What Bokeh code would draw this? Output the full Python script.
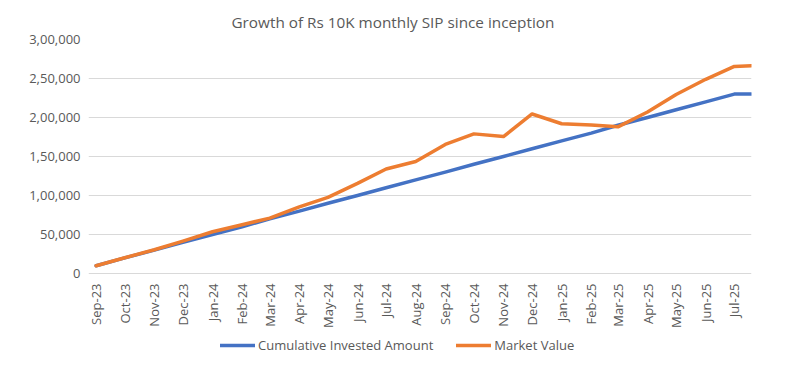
import math
from datetime import datetime
from bokeh.plotting import figure
from bokeh.models import Legend, LegendItem, FixedTicker, Range1d
from bokeh.core.properties import value
from bokeh.embed import file_html
from bokeh.resources import INLINE

# ---- data ----
dates = ["2023-09-01", "2023-10-01", "2023-11-01", "2023-12-01", "2024-01-01", "2024-02-01",
         "2024-03-01", "2024-04-01", "2024-05-01", "2024-06-01", "2024-07-01", "2024-08-01",
         "2024-09-01", "2024-10-01", "2024-11-01", "2024-12-01", "2025-01-01", "2025-02-01",
         "2025-03-01", "2025-04-01", "2025-05-01", "2025-06-01", "2025-07-01", "2025-07-19"]
invested = [10000, 20000, 30000, 40000, 50000, 60000, 70000, 80000, 90000, 100000, 110000, 120000,
            130000, 140000, 150000, 160000, 170000, 180000, 190000, 200000, 210000, 220000, 230000, 230000]
market = [10000, 20200, 30500, 41500, 53500, 62500, 71000, 85500, 97500, 115500, 134000, 143500,
          165500, 179000, 175500, 204500, 192000, 190500, 188000, 207000, 229500, 249000, 265500, 266500]
tick_dates = dates[:-1]
tick_labels = ["Sep-23", "Oct-23", "Nov-23", "Dec-23", "Jan-24", "Feb-24", "Mar-24", "Apr-24",
               "May-24", "Jun-24", "Jul-24", "Aug-24", "Sep-24", "Oct-24", "Nov-24", "Dec-24",
               "Jan-25", "Feb-25", "Mar-25", "Apr-25", "May-25", "Jun-25", "Jul-25"]
y_ticks = [0, 50000, 100000, 150000, 200000, 250000, 300000]
y_labels = ["0", "50,000", "1,00,000", "1,50,000", "2,00,000", "2,50,000", "3,00,000"]
title_text = "Growth of Rs 10K monthly SIP since inception"

# layout constants (not data)
Y_MAX = 300000
Y_MIN = -106410      # extra room below zero for the rotated month labels and the legend
LABEL_Y = -12800     # month labels hang just below the zero line
X_PAD_DAYS = 8       # small left pad so the first month label is not clipped

def to_days(s):
    d = datetime.strptime(s, "%Y-%m-%d")
    return float((d - datetime(1970, 1, 1)).days)

x = [to_days(d) for d in dates]
xt = [to_days(d) for d in tick_dates]

TXT = "#595959"
FONT = "Open Sans"

p = figure(width=782, height=356, output_backend="svg", toolbar_location=None,
           title=title_text, x_axis_location=None,
           x_range=Range1d(x[0] - X_PAD_DAYS, x[-1]), y_range=Range1d(Y_MIN, Y_MAX),
           min_border_left=88, min_border_right=31, min_border_top=39, min_border_bottom=0)

p.title.text_font = FONT
p.title.text_font_size = "15.3px"
p.title.text_font_style = "normal"
p.title.text_color = TXT
p.title.align = "left"
p.title.offset = 143
p.title.standoff = 15

r1 = p.line(x, invested, line_color="#4472C4", line_width=3.5, line_join="round", line_cap="round")
r2 = p.line(x, market, line_color="#ED7D31", line_width=3.5, line_join="round", line_cap="round")

# month labels (rotated, hanging below the zero line)
p.text(x=xt, y=[LABEL_Y] * len(xt), text=tick_labels, angle=math.pi / 2,
       text_align="right", text_baseline="middle",
       text_font=value(FONT), text_font_size=value("13px"), text_color=TXT)

p.yaxis.ticker = FixedTicker(ticks=y_ticks)
p.yaxis.major_label_overrides = {t: l for t, l in zip(y_ticks, y_labels)}
p.yaxis.axis_line_color = None
p.yaxis.major_tick_line_color = None
p.yaxis.minor_tick_line_color = None
p.yaxis.major_tick_out = 0
p.yaxis.major_tick_in = 0
p.yaxis.minor_tick_out = 0
p.yaxis.major_label_text_font = FONT
p.yaxis.major_label_text_font_size = "13px"
p.yaxis.major_label_text_color = TXT
p.yaxis.major_label_standoff = 8

p.xgrid.grid_line_color = None
p.ygrid.grid_line_color = "#d9d9d9"
p.ygrid.grid_line_width = 1
p.outline_line_color = None

legend = Legend(items=[LegendItem(label="Cumulative Invested Amount", renderers=[r1]),
                       LegendItem(label="Market Value", renderers=[r2])],
                orientation="horizontal", location=(132, 2))
legend.label_text_font = FONT
legend.label_text_font_size = "13px"
legend.label_text_color = TXT
legend.glyph_width = 35
legend.glyph_height = 16
legend.label_height = 16
legend.label_standoff = 3
legend.spacing = 23
legend.padding = 0
legend.margin = 0
legend.border_line_color = None
legend.background_fill_alpha = 0
p.add_layout(legend, "center")

open("out.html", "w").write(file_html(p, INLINE))
